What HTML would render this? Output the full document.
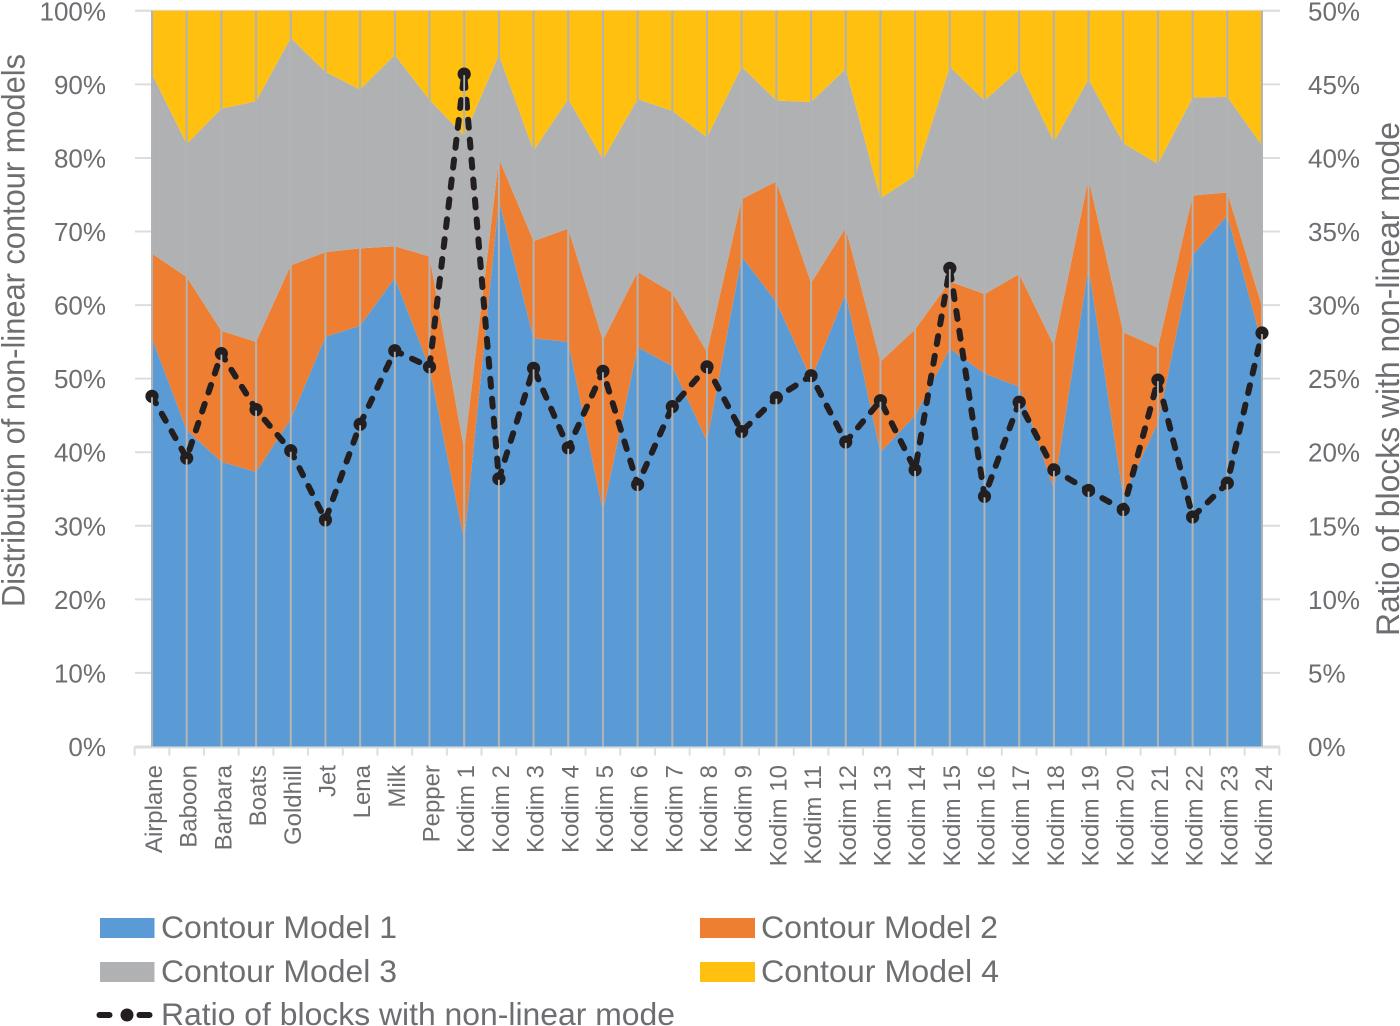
<!DOCTYPE html>
<html lang="en">
<head>
<meta charset="utf-8">
<title>Contour model distribution chart</title>
<style>
html,body{margin:0;padding:0;background:#fff;}
svg{display:block;font-family:"Liberation Sans",sans-serif;}
text{fill:#6d6e71;}
</style>
</head>
<body>
<svg id="chart" xmlns="http://www.w3.org/2000/svg" width="1400" height="1026" viewBox="0 0 1400 1026">
  <g id="ticks"></g>
  <g id="areas"></g>
  <g id="drops"></g>
  <g id="ratio"></g>
  <g id="ratiodrops"></g>
  <g id="labels"></g>

  <text transform="translate(24.500,607) rotate(-90)" font-size="32.500" textLength="553" lengthAdjust="spacingAndGlyphs">Distribution of non-linear contour models</text>
  <text transform="translate(1399,636) rotate(-90)" font-size="32.500" textLength="514" lengthAdjust="spacingAndGlyphs">Ratio of blocks with non-linear mode</text>

  <g>
    <rect x="100" y="918" width="54.500" height="20" fill="#5b9bd5"/>
    <text x="161" y="938" font-size="31.500" textLength="236" lengthAdjust="spacingAndGlyphs">Contour Model 1</text>
    <rect x="700" y="918" width="55" height="20" fill="#ee7e32"/>
    <text x="761" y="938" font-size="31.500" textLength="237" lengthAdjust="spacingAndGlyphs">Contour Model 2</text>
    <rect x="100" y="962" width="54.500" height="20" fill="#afb1b3"/>
    <text x="161" y="982" font-size="31.500" textLength="236" lengthAdjust="spacingAndGlyphs">Contour Model 3</text>
    <rect x="700" y="962" width="55" height="20" fill="#ffc010"/>
    <text x="761" y="982" font-size="31.500" textLength="238" lengthAdjust="spacingAndGlyphs">Contour Model 4</text>
    <line x1="99.500" y1="1015" x2="150" y2="1015" stroke="#231f20" stroke-width="6" stroke-linecap="round" stroke-dasharray="10 30"/>
    <circle cx="127" cy="1015" r="6.500" fill="#231f20"/>
    <text x="161" y="1025" font-size="31.500" textLength="514" lengthAdjust="spacingAndGlyphs">Ratio of blocks with non-linear mode</text>
  </g>
</svg>
<script>
const categories = ["Airplane","Baboon","Barbara","Boats","Goldhill","Jet","Lena","Milk","Pepper","Kodim 1","Kodim 2","Kodim 3","Kodim 4","Kodim 5","Kodim 6","Kodim 7","Kodim 8","Kodim 9","Kodim 10","Kodim 11","Kodim 12","Kodim 13","Kodim 14","Kodim 15","Kodim 16","Kodim 17","Kodim 18","Kodim 19","Kodim 20","Kodim 21","Kodim 22","Kodim 23","Kodim 24"];
const contourModel1 = [55.5,43,38.7,37.3,44.5,55.7,57.2,63.7,51.5,28,74.3,55.5,55,32,54.3,51.7,41.5,66.6,60.4,50,61.6,40,45,54.1,50.7,48.9,35,65.3,34,44,66.8,72.2,54.8];
const contourModel2 = [11.5,20.8,17.8,17.7,20.9,11.5,10.5,4.3,15.1,12.3,5.6,13.2,15.4,23.2,10.2,10,12.1,7.8,16.4,13,8.9,12.3,11.7,9.1,10.8,15.3,19.5,11.9,22.3,10.2,8.1,3.1,5];
const contourModel3 = [24.4,18.1,30.2,32.7,30.9,24.5,21.6,26,21.3,42.7,14.1,12.3,17.6,24.6,23.5,24.7,29.2,18,11,24.6,21.6,22.2,20.9,29.2,26.3,27.8,27.7,13.5,25.7,25,13.3,13,21.9];
const contourModel4 = [8.6,18.1,13.3,12.3,3.7,8.3,10.7,6,12.1,17,6,19,12,20.2,12,13.6,17.2,7.6,12.2,12.4,7.9,25.5,22.4,7.6,12.2,8,17.8,9.3,18,20.8,11.8,11.7,18.3];
const ratioValues = [23.8,19.6,26.7,22.9,20.1,15.4,21.9,26.9,25.8,45.7,18.2,25.7,20.3,25.5,17.8,23.1,25.8,21.4,23.7,25.2,20.7,23.5,18.8,32.5,17,23.4,18.8,17.4,16.1,24.9,15.6,17.9,28.1];
const leftTicks = [0,10,20,30,40,50,60,70,80,90,100];
const rightTicks = [0,5,10,15,20,25,30,35,40,45,50];

const NS = "http://www.w3.org/2000/svg";
const plot = {x0:152, x1:1262, y0:746.5, y1:10.8};
function xAt(i){ return plot.x0 + (plot.x1 - plot.x0) * i / (categories.length - 1); }
function yLeft(v){ return plot.y0 + (plot.y1 - plot.y0) * v / 100; }
function yRight(v){ return plot.y0 + (plot.y1 - plot.y0) * v / 50; }
function mk(tag, attrs, parent){
  const el = document.createElementNS(NS, tag);
  for (const k in attrs) el.setAttribute(k, attrs[k]);
  parent.appendChild(el);
  return el;
}

const ticksG = document.getElementById('ticks');
const areasG = document.getElementById('areas');
const dropsG = document.getElementById('drops');
const ratioG = document.getElementById('ratio');
const ratioDropsG = document.getElementById('ratiodrops');
const labelsG = document.getElementById('labels');

/* axis ticks */
leftTicks.forEach(function(v){
  const t = mk('line',{x1:135,x2:plot.x0,y1:yLeft(v),y2:yLeft(v),stroke:'#dcdddd','stroke-width':2},ticksG);
  
  
  const l = mk('text',{x:106,y:yLeft(v)+9.500,'font-size':26,'text-anchor':'end'},labelsG);
  l.textContent = v + '%';
  
  
});
rightTicks.forEach(function(v){
  const t = mk('line',{x1:plot.x1,x2:1280,y1:yRight(v),y2:yRight(v),stroke:'#dcdddd','stroke-width':2},ticksG);
  
  
  const l = mk('text',{x:1308,y:yRight(v)+9.500,'font-size':26},labelsG);
  l.textContent = v + '%';
  
  
});
const topLine = mk('line',{x1:135,x2:1280,y1:plot.y1,y2:plot.y1,stroke:'#dcdddd','stroke-width':2},ticksG);


const baseLine = mk('line',{x1:135,x2:1280,y1:plot.y0+1,y2:plot.y0+1,stroke:'#dcdddd','stroke-width':2},ticksG);


for (let i = 0; i <= categories.length; i++) {
  const tx = xAt(i) - (plot.x1 - plot.x0) / (categories.length - 1) / 2;
  const t = mk('line',{x1:tx,x2:tx,y1:plot.y0,y2:755.500,stroke:'#dcdddd','stroke-width':2},ticksG);
  
  
}

/* stacked areas */
const stackDefs = [
  {values:contourModel1, fill:'#5b9bd5', name:'area-contour-model-1'},
  {values:contourModel2, fill:'#ee7e32', name:'area-contour-model-2'},
  {values:contourModel3, fill:'#afb1b3', name:'area-contour-model-3'},
  {values:contourModel4, fill:'#ffc010', name:'area-contour-model-4'}
];
let base = categories.map(function(){ return 0; });
stackDefs.forEach(function(s){
  const top = base.map(function(b,i){ return b + s.values[i]; });
  const upper = top.map(function(v,i){ return xAt(i).toFixed(2) + ',' + yLeft(v).toFixed(2); });
  const lower = base.map(function(v,i){ return xAt(i).toFixed(2) + ',' + yLeft(v).toFixed(2); }).reverse();
  const p = mk('polygon',{points:upper.concat(lower).join(' '),fill:s.fill},areasG);
  
  
  base = top;
});

/* drop lines */
categories.forEach(function(c,i){
  const d = mk('line',{x1:xAt(i),x2:xAt(i),y1:plot.y1,y2:plot.y0,stroke:'#b1b3b5','stroke-width':2},dropsG);
  
  
});

/* ratio line */
const linePts = ratioValues.map(function(v,i){ return xAt(i).toFixed(2) + ',' + yRight(v).toFixed(2); }).join(' ');
const ratioLine = mk('polyline',{points:linePts,fill:'none',stroke:'#231f20','stroke-width':6,'stroke-dasharray':'8 12','stroke-linecap':'round','stroke-linejoin':'round'},ratioG);


ratioValues.forEach(function(v,i){
  const m = mk('circle',{cx:xAt(i),cy:yRight(v),r:6.600,fill:'#231f20'},ratioG);
  
  
  const rd = mk('line',{x1:xAt(i),x2:xAt(i),y1:yRight(v)+1,y2:plot.y0,stroke:'#b1b3b5','stroke-width':1.800},ratioDropsG);
  
  
});

/* category labels */
categories.forEach(function(c,i){
  const px = xAt(i) + 10;
  const t = mk('text',{transform:'translate(' + px.toFixed(2) + ',765) rotate(-90)','font-size':24,'text-anchor':'end'},labelsG);
  t.textContent = c;
  
  
});
</script>
</body>
</html>
